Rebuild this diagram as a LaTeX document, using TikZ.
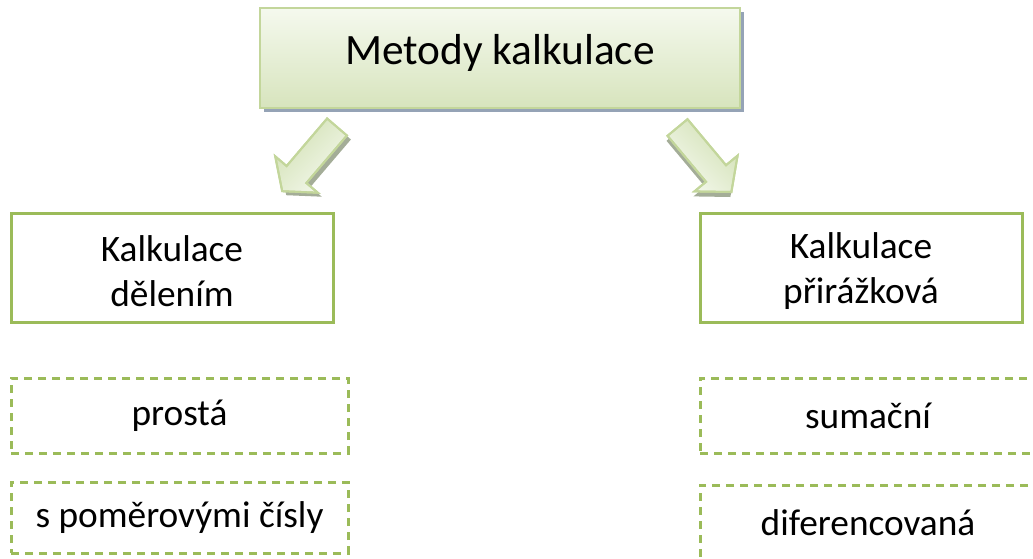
\documentclass[tikz,border=0pt]{standalone}
\usepackage{fontspec}
\setmainfont{Carlito}
\definecolor{accgreen}{HTML}{9BBB59}
\definecolor{lightgreen}{HTML}{C3D69B}
\definecolor{fillgreen}{HTML}{D7E4BD}
\definecolor{paleg}{HTML}{F5F9EE}
\definecolor{shadowblue}{HTML}{95A3B6}
\definecolor{shadowgray}{HTML}{A4AD98}
\tikzset{
  topbox/.style={draw=lightgreen, line width=1.6pt, top color=paleg, bottom color=fillgreen,
    minimum width=360pt, minimum height=75pt, inner sep=0pt},
  toptext/.style={font=\fontsize{32.5}{38}\selectfont},
  catbox/.style={draw=accgreen, line width=2.25pt, fill=white,
    minimum width=241.5pt, minimum height=81.75pt, inner sep=0pt},
  cattext/.style={align=center, font=\fontsize{28}{33.75}\selectfont},
  subbox/.style={draw=accgreen, line width=2.25pt, dash pattern=on 6pt off 4.5pt, align=center,
    minimum width=252.75pt, inner sep=0pt,
    font=\fontsize{28}{33.75}\selectfont},
  blockarrow/.style={draw=lightgreen, line width=1.5pt, line join=miter,
    left color=fillgreen!90!accgreen, right color=paleg, shading angle=45},
  arrowshadow/.style={fill=shadowgray}
}
\begin{document}
\begin{tikzpicture}[x=0.75pt, y=-0.75pt]
\useasboundingbox (0,0) rectangle (1033,558);
% top box shadow and box
\fill[shadowblue] (264,12) rectangle (744,112);
\node[topbox, label={[toptext, yshift=4pt]center:Metody kalkulace}] (top) at (500,58) {};
% left arrow
\coordinate (la) at (337,127);
\fill[arrowshadow, shift={(4,4)}] (327.1,118.5) -- (346.9,135.5) -- (306.4,183.0) -- (317.8,192.7) -- (282.2,191.2) -- (275.2,156.3) -- (286.6,166.0) -- cycle;
\path[blockarrow] (327.1,118.5) -- (346.9,135.5) -- (306.4,183.0) -- (317.8,192.7) -- (282.2,191.2) -- (275.2,156.3) -- (286.6,166.0) -- cycle;
\draw[draw=lightgreen, line width=1.5pt, line join=miter] (327.1,118.5) -- (346.9,135.5) -- (306.4,183.0) -- (317.8,192.7) -- (282.2,191.2) -- (275.2,156.3) -- (286.6,166.0) -- cycle;
% right arrow
\coordinate (ra) at (677.5,127.5);
\fill[arrowshadow, shift={(-1,5)}] (667.5,135.8) -- (687.5,119.2) -- (726,165.2) -- (737.6,155.6) -- (731.4,192.0) -- (694.4,191.4) -- (706,181.8) -- cycle;
\path[blockarrow, shading angle=-45] (667.5,135.8) -- (687.5,119.2) -- (726,165.2) -- (737.6,155.6) -- (731.4,192.0) -- (694.4,191.4) -- (706,181.8) -- cycle;
\draw[draw=lightgreen, line width=1.5pt, line join=miter] (667.5,135.8) -- (687.5,119.2) -- (726,165.2) -- (737.6,155.6) -- (731.4,192.0) -- (694.4,191.4) -- (706,181.8) -- cycle;
% category boxes
\node[catbox, label={[cattext, yshift=-3pt]center:Kalkulace\\dělením}] (left) at (172,267.5) {};
\node[catbox, label={[cattext, yshift=-3pt]center:Kalkulace\\přirážková}] (right) at (861,267.5) {};
% sub boxes
\node[subbox, minimum height=56.25pt] (l1) at (179.5,415.5) {prostá};
\node[subbox, minimum height=53.25pt] (l2) at (179.5,517.5) {s poměrovými čísly};
\node[subbox, minimum width=252pt, minimum height=56.25pt] (r1) at (868,415.5) {sumační};
\node[subbox, minimum width=252pt, minimum height=57pt] (r2) at (868,523) {diferencovaná};
\end{tikzpicture}
\end{document}
